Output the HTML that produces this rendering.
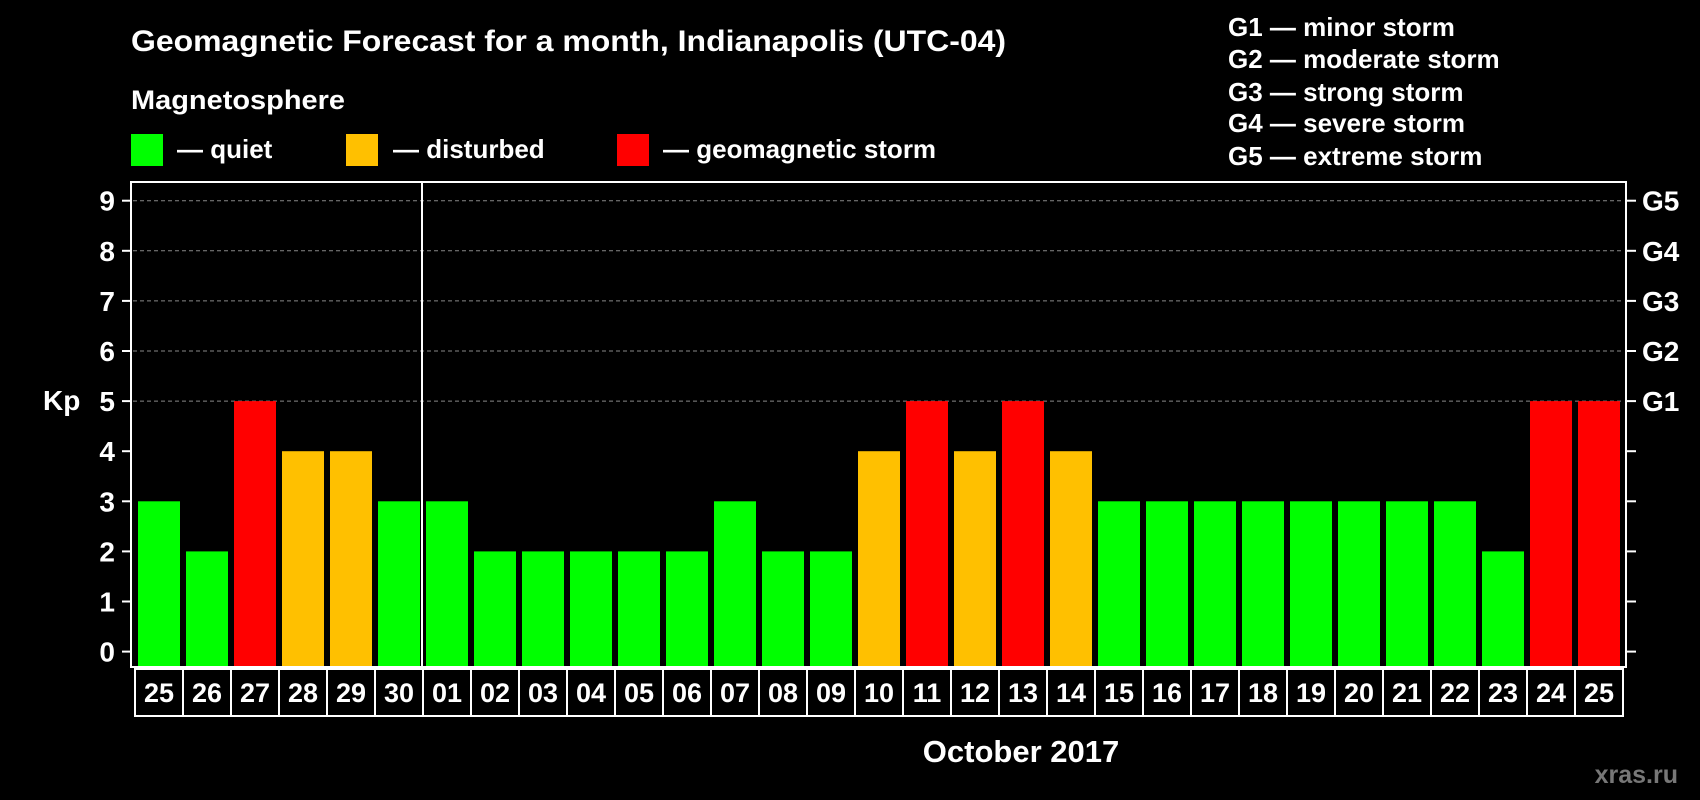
<!DOCTYPE html>
<html><head><meta charset="utf-8"><style>
html,body{margin:0;padding:0;background:#000;}
svg{display:block;font-family:"Liberation Sans",Arial,sans-serif;font-weight:bold;}
</style></head><body>
<svg id="chart" width="1700" height="800" viewBox="0 0 1700 800" xmlns="http://www.w3.org/2000/svg">
<rect width="1700" height="800" fill="#000"/>
<text x="131" y="51" fill="#fff" font-size="30" textLength="875" lengthAdjust="spacingAndGlyphs">Geomagnetic Forecast for a month, Indianapolis (UTC-04)</text>
<text x="131" y="109" fill="#fff" font-size="27" textLength="214" lengthAdjust="spacingAndGlyphs">Magnetosphere</text>
<g><rect x="131" y="134" width="32" height="32" fill="#00ff00"/><text x="177" y="158" fill="#fff" font-size="26">— quiet</text></g>
<g><rect x="346" y="134" width="32" height="32" fill="#ffc000"/><text x="393" y="158" fill="#fff" font-size="26">— disturbed</text></g>
<g><rect x="617" y="134" width="32" height="32" fill="#ff0000"/><text x="663" y="158" fill="#fff" font-size="26">— geomagnetic storm</text></g>
<g fill="#fff" font-size="26">
<text x="1228" y="36">G1 — minor storm</text>
<text x="1228" y="68">G2 — moderate storm</text>
<text x="1228" y="101">G3 — strong storm</text>
<text x="1228" y="132">G4 — severe storm</text>
<text x="1228" y="165">G5 — extreme storm</text>
</g>
<g id="grid"></g>
<g id="bars"></g>
<rect x="131" y="182" width="1495" height="485" fill="none" stroke="#fff" stroke-width="2"/>
<line x1="422" y1="182" x2="422" y2="667" stroke="#fff" stroke-width="2"/>
<g id="axes"></g>
<text x="43" y="410" fill="#fff" font-size="28">Kp</text>
<text x="1021" y="762" fill="#fff" font-size="31" text-anchor="middle">October 2017</text>
<text x="1678" y="783" fill="#777" font-size="25" text-anchor="end">xras.ru</text>
</svg>
<script>
const days = ["25","26","27","28","29","30","01","02","03","04","05","06","07","08","09","10","11","12","13","14","15","16","17","18","19","20","21","22","23","24","25"];
const kpValues = [3,2,5,4,4,3,3,2,2,2,2,2,3,2,2,4,5,4,5,4,3,3,3,3,3,3,3,3,2,5,5];
const yTicks = [0,1,2,3,4,5,6,7,8,9];
const gLabels = ["G1","G2","G3","G4","G5"];

const NS = "http://www.w3.org/2000/svg";
const x0 = 135, step = 48, barW = 42, plotBottom = 666;
function y(v){ return 651.6 - v * 50.1; }
function xCell(i){ return x0 + i * step; }
function mk(tag, attrs, parent){ const e = document.createElementNS(NS, tag); for (const k in attrs) e.setAttribute(k, attrs[k]); parent.appendChild(e); return e; }
function color(v){ return v >= 5 ? "#ff0000" : (v >= 4 ? "#ffc000" : "#00ff00"); }

const grid = document.getElementById("grid"), bars = document.getElementById("bars"), axes = document.getElementById("axes");
yTicks.forEach(t => {
  if (t >= 5) {
    const g = mk("line", {x1:133, x2:1624, y1:y(t), y2:y(t), stroke:"#888", "stroke-width":1, "stroke-dasharray":"4,3"}, grid);
    
    
  }
  const tl = mk("line", {x1:122, x2:131, y1:y(t), y2:y(t), stroke:"#fff", "stroke-width":2}, axes);
  
  
  const tr = mk("line", {x1:1626, x2:1636, y1:y(t), y2:y(t), stroke:"#fff", "stroke-width":2}, axes);
  
  
  const lab = mk("text", {x:115, y:y(t)+10, fill:"#fff", "font-size":28, "text-anchor":"end"}, axes);
  lab.textContent = t;
  
  
});
gLabels.forEach((g, i) => {
  const lab = mk("text", {x:1642, y:y(5+i)+10, fill:"#fff", "font-size":28}, axes);
  lab.textContent = g;
  
  
});
kpValues.forEach((v, i) => {
  const r = mk("rect", {x:xCell(i)+3, y:y(v), width:barW, height:plotBottom - y(v), fill:color(v)}, bars);
  
  
});
days.forEach((d, i) => {
  const c = mk("rect", {x:xCell(i), y:669, width:step, height:47, fill:"none", stroke:"#fff", "stroke-width":2}, axes);
  
  
  const t = mk("text", {x:xCell(i)+step/2, y:702, fill:"#fff", "font-size":27, "text-anchor":"middle"}, axes);
  t.textContent = d;
  
  
});
</script>
</body></html>
